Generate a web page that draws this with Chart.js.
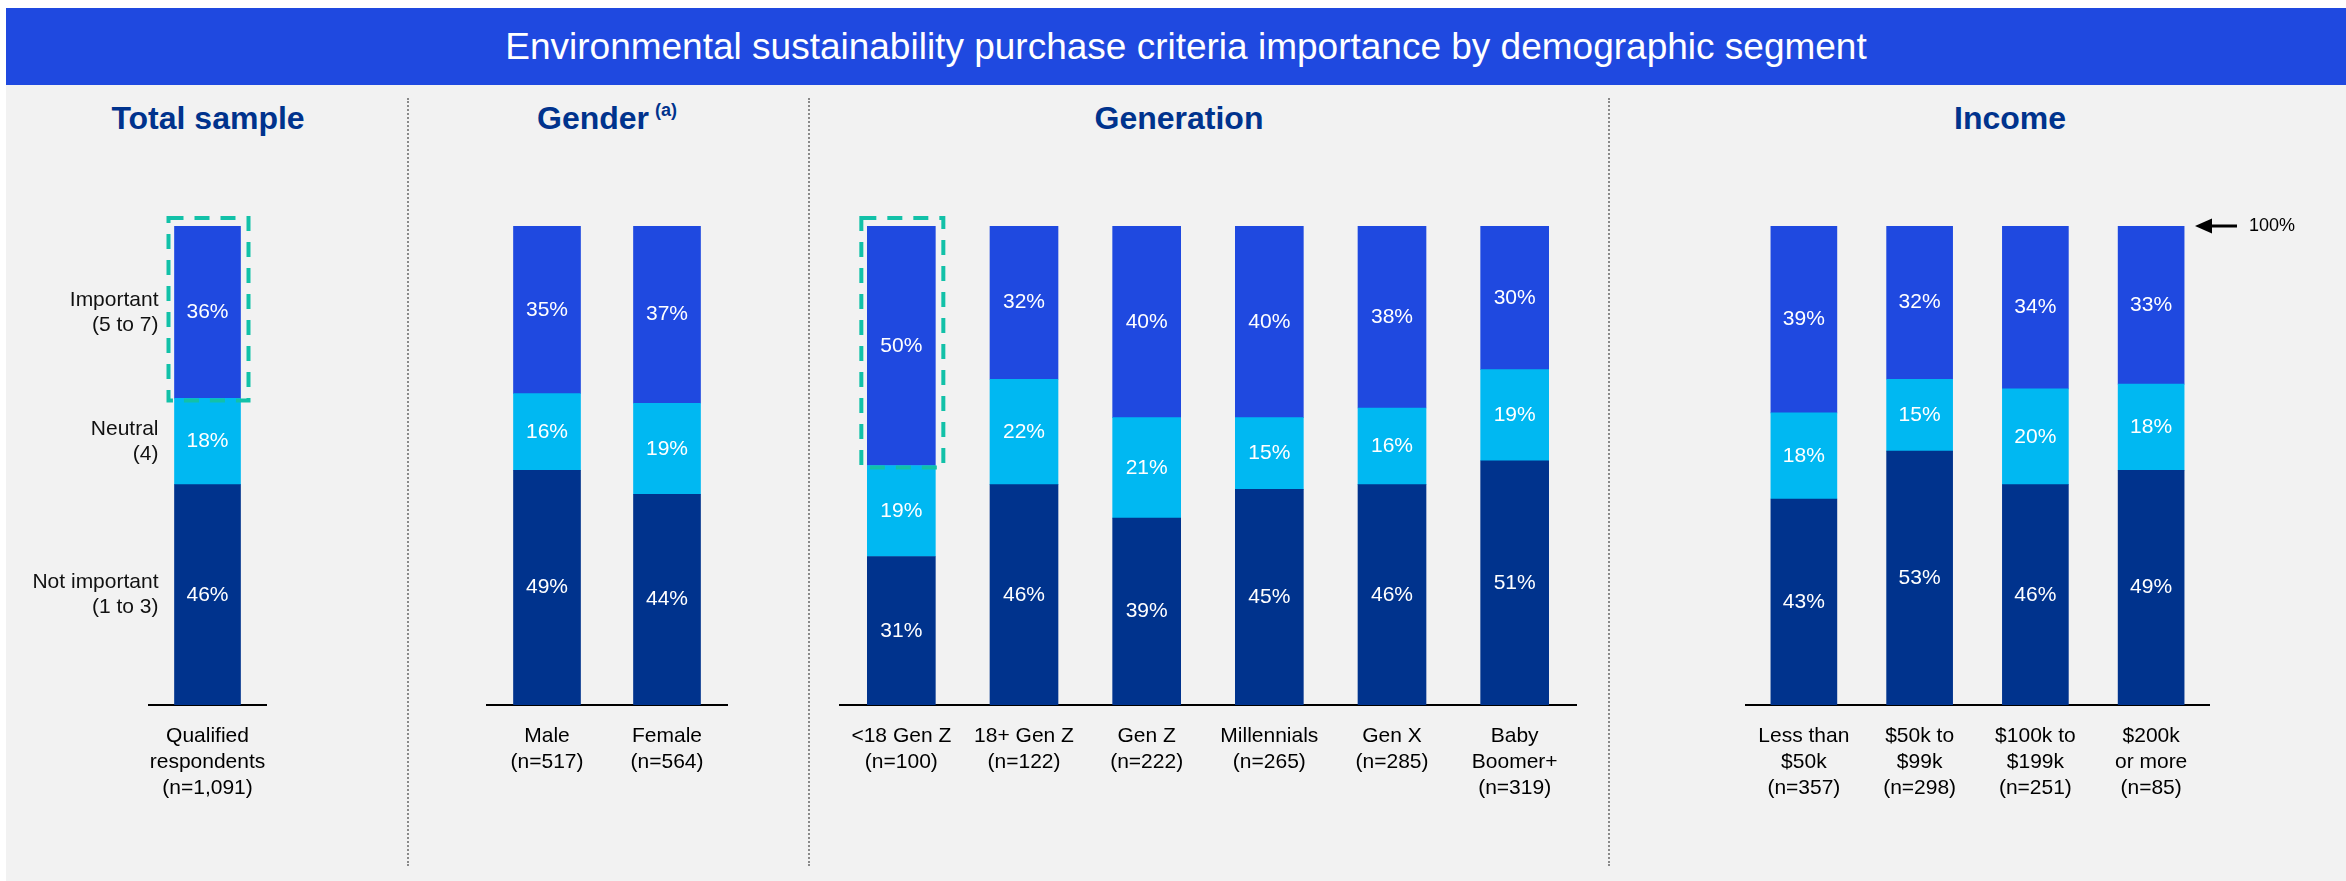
<!DOCTYPE html>
<html>
<head>
<meta charset="utf-8">
<title>Environmental sustainability purchase criteria importance</title>
<script src="https://cdn.jsdelivr.net/npm/chart.js@4.4.1/dist/chart.umd.min.js"></script>
<style>
  html, body { margin: 0; padding: 0; }
  body {
    width: 2346px; height: 881px; position: relative; overflow: hidden;
    background: #fff; font-family: "Liberation Sans", Arial, sans-serif;
  }
  .header {
    position: absolute; left: 6px; top: 8px; width: 2320px; height: 77px;
    padding-left: 20px; background: #1F49E0; color: #fff;
    font-size: 37px; line-height: 77px; text-align: center;
  }
  .panel { position: absolute; left: 6px; top: 85px; width: 2340px; height: 796px; background: #F2F2F2; }
  .divider { position: absolute; top: 98px; height: 768px; border-left: 2px dotted #8a8a8a; }
  .section-title {
    position: absolute; top: 98px; height: 40px; line-height: 40px; width: 400px; margin-left: -200px;
    text-align: center; font-size: 32px; font-weight: bold; color: #00338D;
  }
  .section-title .note {
    font-size: 18px; line-height: 0; vertical-align: baseline;
    position: relative; top: -13px; margin-left: 6px;
  }
  canvas { position: absolute; top: 200px; }
</style>
</head>
<body>
<div class="header">Environmental sustainability purchase criteria importance by demographic segment</div>
<div class="panel"></div>
<div class="divider" style="left:407px"></div>
<div class="divider" style="left:808px"></div>
<div class="divider" style="left:1608px"></div>

<div class="section-title" style="left:208px">Total sample</div>
<div class="section-title" style="left:607px">Gender<span class="note">(a)</span></div>
<div class="section-title" style="left:1179px">Generation</div>
<div class="section-title" style="left:2010px">Income</div>

<canvas id="total-chart" style="left:0px" width="306" height="681"></canvas>
<canvas id="gender-chart" style="left:447px" width="320" height="681"></canvas>
<canvas id="generation-chart" style="left:800px" width="816" height="681"></canvas>
<canvas id="income-chart" style="left:1706px" width="623" height="681"></canvas>

<script>
// --- DATA ---
const segmentNames = [["Not important", "(1 to 3)"], ["Neutral", "(4)"], ["Important", "(5 to 7)"]];

const totalLabels = [["Qualified", "respondents", "(n=1,091)"]];
const totalImportant = [36];
const totalNeutral = [18];
const totalNotImportant = [46];

const genderLabels = [["Male", "(n=517)"], ["Female", "(n=564)"]];
const genderImportant = [35, 37];
const genderNeutral = [16, 19];
const genderNotImportant = [49, 44];

const generationLabels = [
  ["<18 Gen Z", "(n=100)"], ["18+ Gen Z", "(n=122)"], ["Gen Z", "(n=222)"],
  ["Millennials", "(n=265)"], ["Gen X", "(n=285)"], ["Baby", "Boomer+", "(n=319)"]
];
const generationImportant = [50, 32, 40, 40, 38, 30];
const generationNeutral = [19, 22, 21, 15, 16, 19];
const generationNotImportant = [31, 46, 39, 45, 46, 51];

const incomeLabels = [
  ["Less than", "$50k", "(n=357)"], ["$50k to", "$99k", "(n=298)"],
  ["$100k to", "$199k", "(n=251)"], ["$200k", "or more", "(n=85)"]
];
const incomeImportant = [39, 32, 34, 33];
const incomeNeutral = [18, 15, 20, 18];
const incomeNotImportant = [43, 53, 46, 49];

// --- STYLE ---
const FONT = '"Liberation Sans", Arial, sans-serif';
const COLORS = { notImportant: "#00338D", neutral: "#00B8F2", important: "#1F49E0", highlight: "#12C1A8" };

// --- PLUGINS ---
const valueLabels = {
  id: "valueLabels",
  afterDatasetsDraw(chart) {
    // write the % value in the middle of every segment
    const ctx = chart.ctx;
    ctx.save();
    ctx.font = "21px " + FONT;
    ctx.fillStyle = "#fff";
    ctx.textAlign = "center";
    ctx.textBaseline = "middle";
    chart.data.datasets.forEach((ds, i) => {
      chart.getDatasetMeta(i).data.forEach((bar, j) => {
        ctx.fillText(ds.data[j] + "%", bar.x, (bar.y + bar.base) / 2);
      });
    });
    ctx.restore();
  }
};

const highlight = {
  id: "highlight",
  afterDatasetsDraw(chart, args, opts) {
    // dashed box round the top segment of one bar
    if (opts.index === undefined) return;
    const bar = chart.getDatasetMeta(2).data[opts.index];
    const ctx = chart.ctx;
    ctx.save();
    ctx.strokeStyle = COLORS.highlight;
    ctx.lineWidth = 4;
    ctx.setLineDash([15, 11]);
    const left = bar.x - bar.width / 2 - 6;
    const right = bar.x + bar.width / 2 + 8;
    const top = bar.y - 8;
    const bottom = bar.base + 2;
    ctx.strokeRect(left, top, right - left, bottom - top);
    ctx.restore();
  }
};

const segmentLabels = {
  id: "segmentLabels",
  afterDatasetsDraw(chart, args, opts) {
    // legend text written to the left of the first bar
    if (!opts.names) return;
    const ctx = chart.ctx;
    ctx.save();
    ctx.font = "21px " + FONT;
    ctx.fillStyle = "#111";
    ctx.textAlign = "right";
    ctx.textBaseline = "middle";
    opts.names.forEach((lines, i) => {
      const bar = chart.getDatasetMeta(i).data[0];
      const x = bar.x - bar.width / 2 - 16;
      const mid = (bar.y + bar.base) / 2;
      lines.forEach((line, k) => {
        ctx.fillText(line, x, mid + (k - (lines.length - 1) / 2) * 25);
      });
    });
    ctx.restore();
  }
};

const topArrow = {
  id: "topArrow",
  afterDraw(chart, args, opts) {
    // "<- 100%" marker level with the top of the bars
    if (!opts.text) return;
    const ctx = chart.ctx;
    const y = chart.scales.y.getPixelForValue(100);
    const tip = chart.chartArea.right - 14;
    ctx.save();
    ctx.strokeStyle = "#000";
    ctx.fillStyle = "#000";
    ctx.lineWidth = 3;
    ctx.beginPath();
    ctx.moveTo(tip + 12, y);
    ctx.lineTo(tip + 42, y);
    ctx.stroke();
    ctx.beginPath();
    ctx.moveTo(tip, y);
    ctx.lineTo(tip + 17, y - 7.5);
    ctx.lineTo(tip + 17, y + 7.5);
    ctx.closePath();
    ctx.fill();
    ctx.font = "18px " + FONT;
    ctx.textAlign = "left";
    ctx.textBaseline = "middle";
    ctx.fillText(opts.text, tip + 54, y);
    ctx.restore();
  }
};

// --- CHARTS ---
function stackedChart(id, labels, important, neutral, notImportant, barWidth, padding, extra = {}) {
  const dataset = (label, data, color) => ({ label, data, backgroundColor: color, barThickness: barWidth });
  return new Chart(document.getElementById(id), {
    type: "bar",
    data: {
      labels,
      datasets: [
        dataset("Not important (1 to 3)", notImportant, COLORS.notImportant),
        dataset("Neutral (4)", neutral, COLORS.neutral),
        dataset("Important (5 to 7)", important, COLORS.important)
      ]
    },
    options: {
      responsive: false,
      animation: false,
      layout: { padding: { top: 26, bottom: 0, left: padding.left, right: padding.right } },
      plugins: {
        legend: { display: false },
        tooltip: { enabled: false },
        highlight: { index: extra.highlight },
        segmentLabels: { names: extra.names },
        topArrow: { text: extra.arrow }
      },
      scales: {
        x: {
          stacked: true,
          grid: { display: false },
          border: { display: true, color: "#000", width: 2 },
          ticks: {
            color: "#000",
            font: { family: FONT, size: 21, lineHeight: "26px" },
            padding: 10,
            maxRotation: 0,
            autoSkip: false
          },
          afterFit: s => { s.height = 176; }
        },
        y: { stacked: true, display: false, min: 0, max: 100 }
      }
    },
    plugins: [valueLabels, highlight, segmentLabels, topArrow]
  });
}

stackedChart("total-chart", totalLabels, totalImportant, totalNeutral, totalNotImportant, 66,
  { left: 149, right: 40 }, { highlight: 0, names: segmentNames });
stackedChart("gender-chart", genderLabels, genderImportant, genderNeutral, genderNotImportant, 67,
  { left: 40, right: 40 });
stackedChart("generation-chart", generationLabels, generationImportant, generationNeutral, generationNotImportant, 68,
  { left: 40, right: 40 }, { highlight: 0 });
stackedChart("income-chart", incomeLabels, incomeImportant, incomeNeutral, incomeNotImportant, 66,
  { left: 40, right: 120 }, { arrow: "100%" });
</script>
</body>
</html>
